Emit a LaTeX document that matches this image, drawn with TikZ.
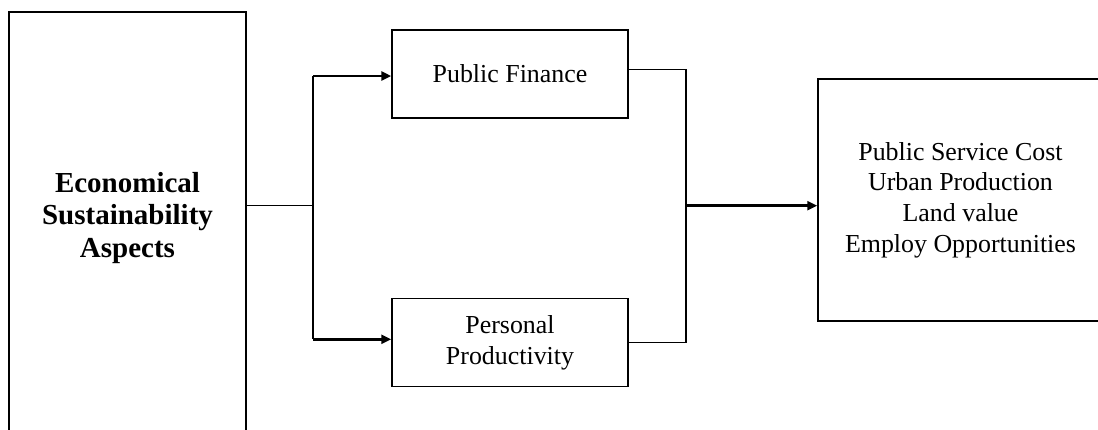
\documentclass[tikz,border=0pt]{standalone}
\usepackage{fontspec}
\setmainfont{Liberation Serif}
\usetikzlibrary{arrows.meta}

\tikzset{
  box/.style={draw=black, line width=1.5pt, inner sep=0pt, align=center},
  plain/.style={font=\fontsize{25.9}{30.7}\selectfont},
  heading/.style={font=\fontsize{29}{32.5}\selectfont\bfseries, align=center},
  wire/.style={draw=black, line width=1.5pt},
  feed/.style={draw=black, line width=2.7pt, -{Triangle[length=10pt,width=9pt]}},
}

\begin{document}
\begin{tikzpicture}[x=1pt,y=-1pt]
  \useasboundingbox (0,0) rectangle (1098,429);
  \fill[white] (0,0) rectangle (1098,429);
  \clip (0,0) rectangle (1098,429);

  % source block (runs past the lower edge)
  \node[box, minimum width=237pt, minimum height=450pt] (esa) at (127.5,237) {};
  \node[heading] (esatext) at (127.5,218) {Economical\\Sustainability\\Aspects};

  % the two branches
  \node[box, plain, minimum width=236pt, minimum height=88pt] (pf) at (510,74) {Public Finance};
  \node[box, plain, minimum width=236pt, minimum height=88pt] (pp) at (510,342.7) {Personal\\Productivity};

  % outcome block (runs past the right edge)
  \node[box, plain, minimum width=285pt, minimum height=242pt] (out) at (960.5,200)
    {Public Service Cost\\Urban Production\\Land value\\Employ Opportunities};

  % splitting junction
  \coordinate (split) at (313,205.7);
  \coordinate (splitTop) at (313,76);
  \coordinate (splitBot) at (313,339.3);
  \draw[wire] (esa.east |- split) -- (split);
  \draw[wire] (splitTop) -- (splitBot);
  \draw[feed] (splitTop) -- (splitTop -| pf.west);
  \draw[feed] (splitBot) -- (splitBot -| pp.west);

  % merging junction
  \coordinate (mergeTop) at (686,69.3);
  \coordinate (mergeBot) at (686,342.7);
  \coordinate (merge) at (686,205.7);
  \draw[wire] (pf.east |- mergeTop) -- (mergeTop) -- (mergeBot) -- (pp.east |- mergeBot);
  \draw[feed] (merge) -- (merge -| out.west);
\end{tikzpicture}
\end{document}
